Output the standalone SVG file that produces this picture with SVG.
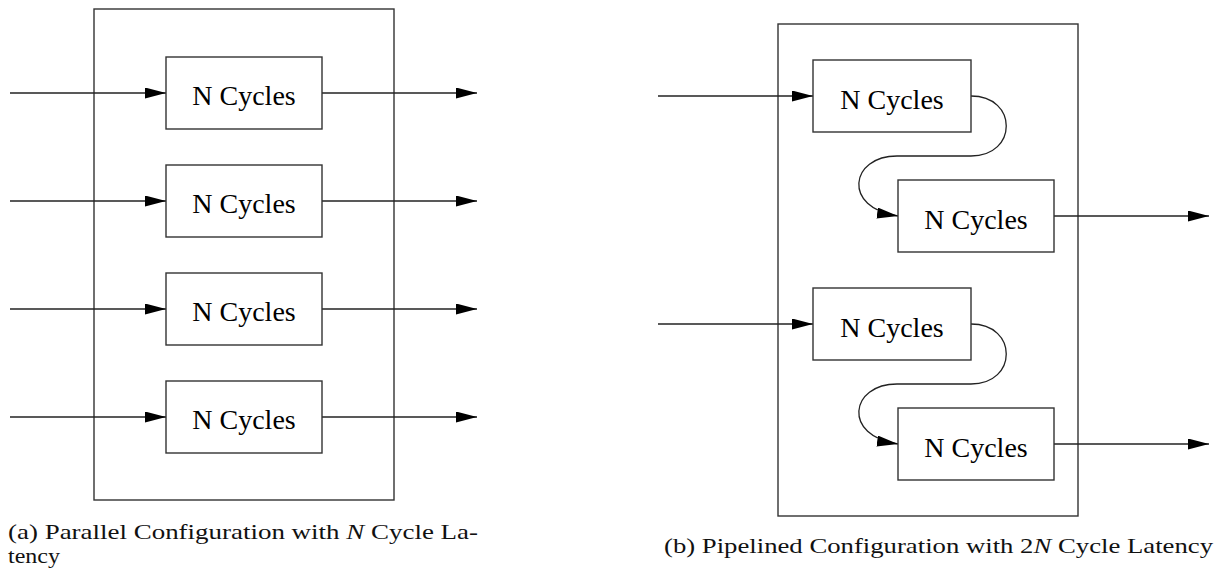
<svg xmlns="http://www.w3.org/2000/svg" width="1223" height="574" viewBox="0 0 1223 574">
<style>
.frame{fill:none;stroke:#333;stroke-width:1.4}
.box{fill:#fff;stroke:#333;stroke-width:1.4}
.lbl{font-family:"Liberation Serif","Tinos","DejaVu Serif","Times New Roman",serif;font-size:28px;fill:#000;text-anchor:middle}
.cap{font-family:"Liberation Serif","Tinos","DejaVu Serif","Times New Roman",serif;font-size:21px;fill:#111}
.wire{fill:none;stroke:#222;stroke-width:1.3;marker-end:url(#ah)}
</style>
<defs>
<marker id="ah" markerUnits="userSpaceOnUse" markerWidth="23" markerHeight="12" refX="21" refY="5.5" orient="auto">
<path d="M0,0 L21,5.5 L0,11 z" fill="#000"/>
</marker>
</defs>
<rect width="1223" height="574" fill="#fff"/>
<g id="frame-a"><rect class="frame" x="94" y="9" width="300" height="491"/></g>
<g id="frame-b"><rect class="frame" x="778" y="24" width="300" height="492"/></g>
<g id="connectors">
<path class="wire" d="M10,93 H166"/>
<path class="wire" d="M322,93 H477"/>
<path class="wire" d="M10,201 H166"/>
<path class="wire" d="M322,201 H477"/>
<path class="wire" d="M10,309 H166"/>
<path class="wire" d="M322,309 H477"/>
<path class="wire" d="M10,417 H166"/>
<path class="wire" d="M322,417 H477"/>
<path class="wire" d="M658,96 H813"/>
<path class="wire" d="M971,96 C1018,96 1018,156 971,156 H897 C850,156 842,208 898,216"/>
<path class="wire" d="M1054,216 H1209"/>
<path class="wire" d="M658,324 H813"/>
<path class="wire" d="M971,324 C1018,324 1018,384 971,384 H897 C850,384 842,436 898,444"/>
<path class="wire" d="M1054,444 H1209"/>
</g>
<g id="a1"><rect class="box" x="166" y="57" width="156" height="72"/><text class="lbl" x="244" y="105">N Cycles</text></g>
<g id="a2"><rect class="box" x="166" y="165" width="156" height="72"/><text class="lbl" x="244" y="213">N Cycles</text></g>
<g id="a3"><rect class="box" x="166" y="273" width="156" height="72"/><text class="lbl" x="244" y="321">N Cycles</text></g>
<g id="a4"><rect class="box" x="166" y="381" width="156" height="72"/><text class="lbl" x="244" y="429">N Cycles</text></g>
<g id="b1"><rect class="box" x="813" y="60" width="158" height="72"/><text class="lbl" x="892" y="108.5">N Cycles</text></g>
<g id="b2"><rect class="box" x="898" y="180" width="156" height="72"/><text class="lbl" x="976" y="228.5">N Cycles</text></g>
<g id="b3"><rect class="box" x="813" y="288" width="158" height="72"/><text class="lbl" x="892" y="336.5">N Cycles</text></g>
<g id="b4"><rect class="box" x="898" y="408" width="156" height="72"/><text class="lbl" x="976" y="456.5">N Cycles</text></g>
<g id="captions">
<text class="cap" x="8" y="539" textLength="470" lengthAdjust="spacingAndGlyphs">(a) Parallel Configuration with <tspan font-style="italic">N</tspan> Cycle La-</text>
<text class="cap" x="8" y="562.5" textLength="52" lengthAdjust="spacingAndGlyphs">tency</text>
<text class="cap" x="664" y="553" textLength="549" lengthAdjust="spacingAndGlyphs">(b) Pipelined Configuration with 2<tspan font-style="italic">N</tspan> Cycle Latency</text>
</g>
</svg>
